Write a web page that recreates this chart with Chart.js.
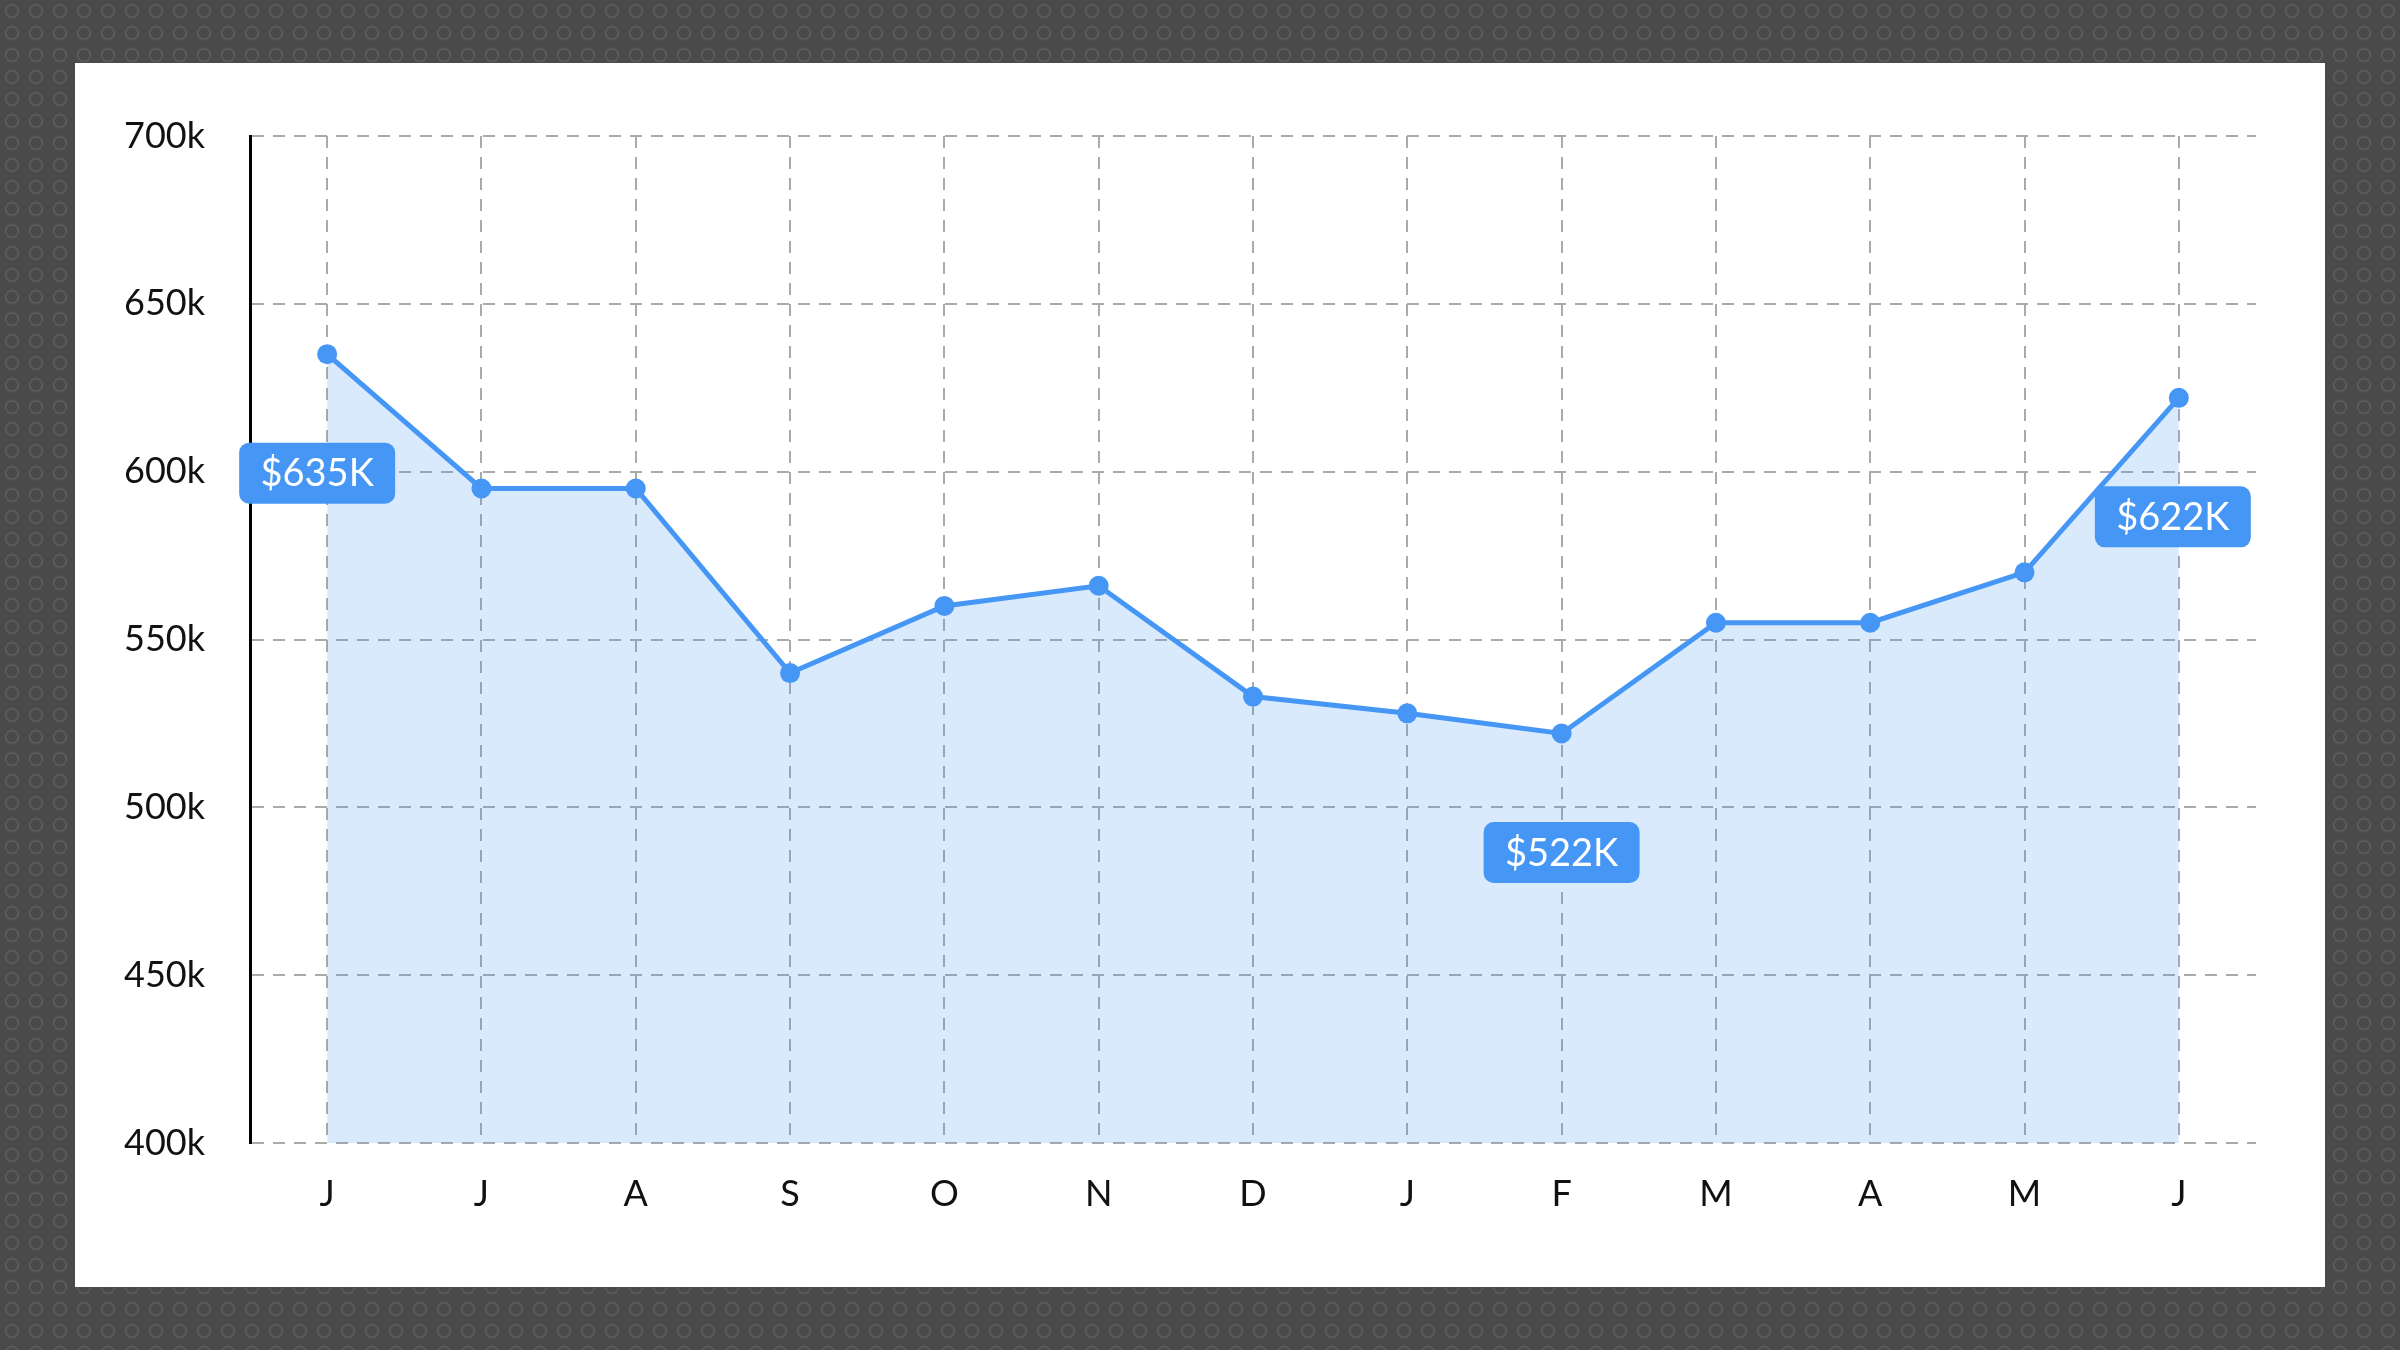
<!DOCTYPE html>
<html><head><meta charset="utf-8">
<script src="https://cdn.jsdelivr.net/npm/chart.js@4"></script>
<style>
html,body{margin:0;padding:0;width:2400px;height:1350px;overflow:hidden;
background-color:#4a4a4a;
background-image:radial-gradient(circle at 50% 50%, transparent 5px, rgba(120,120,120,0.45) 6px, transparent 8px);
background-size:24px 22px;}
#card{position:absolute;left:75px;top:63px;width:2250px;height:1224px;background:#fff;}
#c{position:absolute;left:0;top:0;}
</style></head>
<body><div id="card"></div><canvas id="c" width="2400" height="1350"></canvas>
<script>
const months = ['J','J','A','S','O','N','D','J','F','M','A','M','J'];
const revenue = [635,595,595,540,560,566,533,528,522,555,555,570,622];
const callouts = [{i:0,text:'$635K',dx:-10},{i:8,text:'$522K',dx:0},{i:12,text:'$622K',dx:-6}];

const calloutPlugin = {
  id:'callouts',
  afterDatasetsDraw(chart){
    const ctx = chart.ctx; const meta = chart.getDatasetMeta(0);
    ctx.save();
    ctx.font = '38px Lato';
    callouts.forEach(c=>{
      const p = meta.data[c.i];
      const cx = p.x + c.dx, cy = p.y + 119;
      const w = 156, h = 61;
      ctx.fillStyle = '#4697f5';
      ctx.beginPath(); ctx.roundRect(cx-w/2, cy-h/2, w, h, 10); ctx.fill();
      ctx.fillStyle = '#fff'; ctx.textAlign='center'; ctx.textBaseline='middle';
      ctx.fillText(c.text, cx, cy+1);
    });
    ctx.restore();
  }
};

new Chart(document.getElementById('c'), {
  type:'line',
  data:{labels:months, datasets:[{
    data:revenue, borderColor:'#4697f5', borderWidth:5,
    backgroundColor:'rgba(70,151,245,0.2)', fill:'start',
    pointRadius:10, pointBackgroundColor:'#4697f5', pointBorderWidth:0,
    tension:0
  }]},
  options:{
    responsive:false, animation:false, devicePixelRatio:1,
    layout:{padding:{left:0,top:136,right:144,bottom:107}},
    plugins:{legend:{display:false},tooltip:{enabled:false}},
    scales:{
      x:{offset:true,
        grid:{offset:false,color:'#aaaaaa',lineWidth:2,drawTicks:false},
        border:{display:false,dash:[12,9]},
        ticks:{color:'#111',font:{family:'Lato',size:36},padding:30},
        afterFit(s){s.height=100;}
      },
      y:{min:400,max:700,
        grid:{color:'#aaaaaa',lineWidth:2,drawTicks:false},
        border:{display:true,color:'#000',width:3,dash:[12,9]},
        ticks:{stepSize:50,color:'#111',font:{family:'Lato',size:36},padding:45,
          callback:v=>v+'k'},
        afterFit(s){s.width=250;}
      }
    }
  },
  plugins:[calloutPlugin]
});
</script></body></html>
